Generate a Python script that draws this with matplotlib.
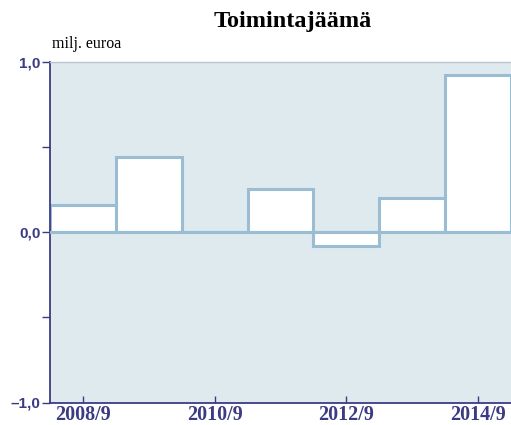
import matplotlib.pyplot as plt

periods = ["2008/9", "2009/9", "2010/9", "2011/9", "2012/9", "2013/9", "2014/9"]
values = [0.16, 0.44, 0.0, 0.25, -0.08, 0.20, 0.92]
tick_labels = ["2008/9", "2010/9", "2012/9", "2014/9"]
y_ticks = [-1.0, -0.5, 0.0, 0.5, 1.0]
y_labels = ["\u20131,0", "", "0,0", "", "1,0"]

navy = "#3b3b85"
edge = "#9bbdd3"
bg = "#deeaee"

W, H = 511, 425
fig = plt.figure(figsize=(W / 100, H / 100), dpi=100)
ax = fig.add_axes([50 / W, (H - 402.5) / H, (W - 50) / W, (402.5 - 61.5) / H])
ax.set_facecolor(bg)

x = list(range(len(periods)))
ax.bar(x, values, width=1.0, color="white", edgecolor=edge, linewidth=2.2, zorder=2)
ax.axhline(0, color=edge, linewidth=2.2, zorder=3)

ax.set_xlim(-0.5, len(periods) - 0.5)
ax.set_ylim(-1.0, 1.0)

ax.set_yticks(y_ticks)
ax.set_yticklabels(y_labels, fontfamily="Liberation Sans", fontweight="bold",
                   fontsize=11, color=navy)
ax.tick_params(axis="y", direction="out", length=6, width=1, color=navy, pad=1)

ax.set_xticks([periods.index(t) for t in tick_labels])
ax.set_xticklabels(tick_labels, fontfamily="Liberation Serif", fontweight="bold",
                   fontsize=14.5, color=navy)
ax.tick_params(axis="x", direction="in", length=5, width=1, color=navy, pad=2)

for side in ["left", "bottom"]:
    ax.spines[side].set_color(navy)
    ax.spines[side].set_linewidth(1.3)
ax.spines["top"].set_color("#b8c6ce")
ax.spines["top"].set_linewidth(1.0)
ax.spines["right"].set_visible(False)

fig.text(293 / W, 1 - 22 / H, "Toimintajäämä", ha="center", va="center",
         fontfamily="Liberation Serif", fontweight="bold", fontsize=17.5)
fig.text(52 / W, 1 - 44 / H, "milj. euroa", ha="left", va="center",
         fontfamily="Liberation Serif", fontsize=11.5)

fig.savefig("out.png", dpi=100)
